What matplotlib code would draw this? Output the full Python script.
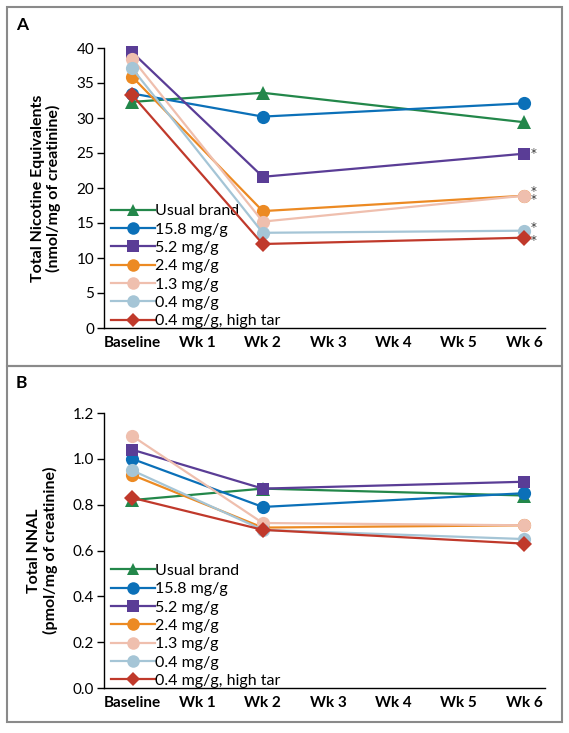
import matplotlib
matplotlib.use("Agg")
import matplotlib.pyplot as plt
from matplotlib.patches import Rectangle
from matplotlib.lines import Line2D

plt.rcParams['font.family'] = ['Lato', 'DejaVu Sans']

x_labels = ["Baseline", "Wk 1", "Wk 2", "Wk 3", "Wk 4", "Wk 5", "Wk 6"]
x_data = [0, 2, 6]

series = ["Usual brand", "15.8 mg/g", "5.2 mg/g", "2.4 mg/g", "1.3 mg/g", "0.4 mg/g", "0.4 mg/g, high tar"]
colors = ["#23874a", "#0b70b8", "#5a3d96", "#ec8a23", "#efbfae", "#a5c5d6", "#c0392b"]
markers = ["^", "o", "s", "o", "o", "o", "D"]

tne = [
    [32.3, 33.6, 29.4],
    [33.5, 30.2, 32.1],
    [39.4, 21.6, 24.9],
    [35.9, 16.7, 18.9],
    [38.5, 15.2, 18.9],
    [37.1, 13.6, 13.9],
    [33.3, 12.0, 12.9],
]
nnal = [
    [0.82, 0.87, 0.84],
    [1.00, 0.79, 0.85],
    [1.04, 0.87, 0.90],
    [0.93, 0.70, 0.71],
    [1.10, 0.72, 0.71],
    [0.95, 0.69, 0.65],
    [0.83, 0.69, 0.63],
]
# asterisk annotations at Wk 6: (y position in data units, text)
stars_y = [24.9, 18.9, 14.3, 12.5]
stars_txt = ["*", "*\n*", "*", "*"]

W, H = 569, 733
fig = plt.figure(figsize=(W / 100, H / 100), dpi=100)

def fx(px):
    return px / W

def fy(py):
    return 1 - py / H

# panel frames
for (top, bot) in [(7, 366), (366, 722)]:
    fig.patches.append(Rectangle((fx(7), fy(bot)), fx(562) - fx(7), fy(top) - fy(bot),
                                 transform=fig.transFigure, fill=False,
                                 edgecolor="#8a8a8a", linewidth=1.5))

fig.text(fx(16), fy(25), "A", fontsize=12.5, fontweight="bold", va="center", ha="left")
fig.text(fx(16), fy(383), "B", fontsize=12.5, fontweight="bold", va="center", ha="left")

def make_axes(top_px, bot_px):
    left = fx(104)
    right = fx(545)
    return fig.add_axes([left, fy(bot_px), right - left, fy(top_px) - fy(bot_px)])

def style(ax, ylim, yticks, fmt, ylabel):
    ax.set_xlim(-0.43, 6.32)
    ax.set_ylim(*ylim)
    ax.set_xticks(range(7))
    ax.set_xticklabels(x_labels, fontsize=11, fontweight="bold")
    ax.tick_params(axis="x", length=0, pad=6)
    ax.set_yticks(yticks)
    ax.set_yticklabels([fmt.format(v) for v in yticks], fontsize=11)
    ax.tick_params(axis="y", direction="out", length=5, width=1, pad=2)
    for s in ["top", "right"]:
        ax.spines[s].set_visible(False)
    ax.spines["left"].set_linewidth(1)
    ax.spines["bottom"].set_linewidth(1)
    ax.set_ylabel(ylabel, fontsize=11.5, fontweight="bold", linespacing=1.1, labelpad=11)
    ax.set_facecolor("none")

def draw(ax, data):
    handles = []
    for i in range(len(series)):
        ms = 9.5
        if markers[i] == "s":
            ms = 8.5
        if markers[i] == "D":
            ms = 8
        ax.plot(x_data, data[i], color=colors[i], marker=markers[i], markersize=ms,
                linewidth=1.6, markeredgewidth=0, clip_on=False, zorder=3 + i)
        handles.append(Line2D([], [], color=colors[i], marker=markers[i], markersize=ms * 0.95,
                              linewidth=1.6, markeredgewidth=0))
    leg = ax.legend(handles, series, loc="lower left", bbox_to_anchor=(-0.005, -0.035),
                    frameon=False, fontsize=11.5, handlelength=2.7, handletextpad=0.05,
                    labelspacing=0.26, borderaxespad=0.2)
    return leg

ax1 = make_axes(48, 328)
draw(ax1, tne)
style(ax1, (0, 40), list(range(0, 41, 5)), "{:d}", "Total Nicotine Equivalents\n(nmol/mg of creatinine)")
for y, t in zip(stars_y, stars_txt):
    ax1.text(6.14, y, t, fontsize=8.5, ha="center", va="center", color="#333333",
             family="DejaVu Sans", linespacing=0.55)

ax2 = make_axes(413, 688)
draw(ax2, nnal)
style(ax2, (0, 1.2), [0.0, 0.2, 0.4, 0.6, 0.8, 1.0, 1.2], "{:.1f}", "Total NNAL\n(pmol/mg of creatinine)")

fig.savefig("out.png", dpi=100)
